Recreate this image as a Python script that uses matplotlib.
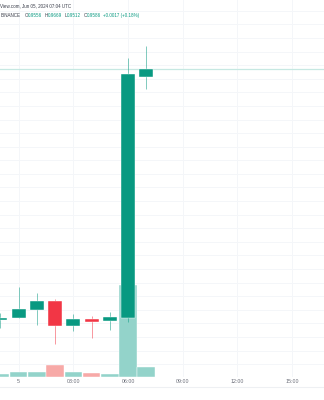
import matplotlib
matplotlib.use("Agg")
import matplotlib.pyplot as plt
from matplotlib.lines import Line2D
from matplotlib.patches import Rectangle
import numpy as np

plt.rcParams['font.family'] = ['Liberation Sans', 'DejaVu Sans']

# Hourly candles, hours relative to Jun 05 2024 00:00 UTC
hours = [-1, 0, 1, 2, 3, 4, 5, 6, 7]
opens = [0.8662, 0.8669, 0.8699, 0.8733, 0.8641, 0.8665, 0.8659, 0.8671, 0.9556]
highs = [0.8687, 0.8785, 0.8761, 0.8740, 0.8683, 0.8677, 0.8693, 0.9625, 0.9669]
lows = [0.8634, 0.8669, 0.8644, 0.8573, 0.8623, 0.8595, 0.8626, 0.8656, 0.9512]
closes = [0.8668, 0.8703, 0.8732, 0.8640, 0.8666, 0.8656, 0.8672, 0.9568, 0.9586]
volumes = [2.7, 4.6, 4.6, 12.3, 5.3, 3.6, 3.3, 91.5, 10.0]  # millions

tick_hours = [0, 3, 6, 9, 12, 15]
tick_labels = ["5", "03:00", "06:00", "09:00", "12:00", "15:00"]

header1 = "View.com, Jun 05, 2024 07:04 UTC"
exchange = "BINANCE"
ohlc_parts = [("O", "0.9556"), ("H", "0.9669"), ("L", "0.9512"), ("C", "0.9586")]
change_text = "+0.0017 (+0.18%)"
last_price = 0.9586

GREEN = "#089981"
RED = "#F23645"
VGREEN = "#93d3ca"
VRED = "#f7a9a7"
GRID = "#f4f6f9"

W, H = 324, 400
fig = plt.figure(figsize=(W / 100, H / 100), dpi=100)
fig.patch.set_facecolor("white")

ax_bottom_px = 23
rect = [0, ax_bottom_px / H, 1, (H - ax_bottom_px) / H]
axv = fig.add_axes(rect)
ax = fig.add_axes(rect)
xmin, xmax = -1.02, 16.75
ymin, ymax = 0.84526, 0.98399
for a in (ax, axv):
    a.set_xlim(xmin, xmax)
    a.set_xticks([])
    a.set_yticks([])
    for s in a.spines.values():
        s.set_visible(False)
ax.set_ylim(ymin, ymax)
ax.patch.set_visible(False)
axv.set_facecolor("white")
axv.set_ylim(0, max(volumes) * (H - ax_bottom_px) / 92.0)

# grid (drawn on the bottom axes)
for g in np.arange(0.845, 0.99, 0.005):
    y = (g - ymin) / (ymax - ymin)
    axv.axhline(axv.get_ylim()[1] * y, color=GRID, lw=0.7, zorder=0)
for t in tick_hours:
    axv.axvline(t, color=GRID, lw=0.7, zorder=0)

# volume bars
for h, o, c, v in zip(hours, opens, closes, volumes):
    col = VGREEN if c >= o else VRED
    axv.bar(h, v, width=0.96, color=col, edgecolor="white", linewidth=0.3, zorder=1)

# price line
ax.axhline(last_price, color="#c6e8e2", lw=0.9, zorder=2)

body_w = 0.77
for h, o, hi, lo, c in zip(hours, opens, highs, lows, closes):
    col = GREEN if c >= o else RED
    ax.plot([h, h], [lo, hi], color=col, lw=0.6, alpha=0.6, zorder=3, solid_capstyle="butt")
    bottom = min(o, c)
    height = max(abs(c - o), 0.0004)
    ax.add_patch(Rectangle((h - body_w / 2, bottom), body_w, height,
                           facecolor=col, edgecolor="white", linewidth=0.3, zorder=4))

# time labels
for t, lab in zip(tick_hours, tick_labels):
    x = (t - xmin) / (xmax - xmin)
    fig.text(x, 1 - 381.7 / H, lab, ha="center", va="center", fontsize=3.8, color="#6a6d78")

# bottom separator line
fig.add_artist(Line2D([0, 1], [1 - 386.5 / H, 1 - 386.5 / H], color="#eef0f3", lw=0.8))

# header
FS = 3.25
fig.text(0.0, 1 - 5.5 / H, header1, ha="left", va="center", fontsize=FS, color="#3a3e4a")
t = fig.text(0.5 / W, 1 - 15.5 / H, exchange, ha="left", va="center", fontsize=FS, color="#3a3e4a")
fig.canvas.draw()
r = fig.canvas.get_renderer()
cur = t.get_window_extent(r).x1 + 4
for letter, val in ohlc_parts:
    t1 = fig.text(cur / W, 1 - 15.5 / H, letter, ha="left", va="center", fontsize=FS, color="#3a3e4a")
    cur = t1.get_window_extent(r).x1 - 0.1
    t2 = fig.text(cur / W, 1 - 15.5 / H, val, ha="left", va="center", fontsize=FS, color=GREEN)
    cur = t2.get_window_extent(r).x1 + 2.5
fig.text(cur / W, 1 - 15.5 / H, change_text, ha="left", va="center", fontsize=FS, color=GREEN)

fig.savefig("out.png", dpi=100, facecolor="white")
